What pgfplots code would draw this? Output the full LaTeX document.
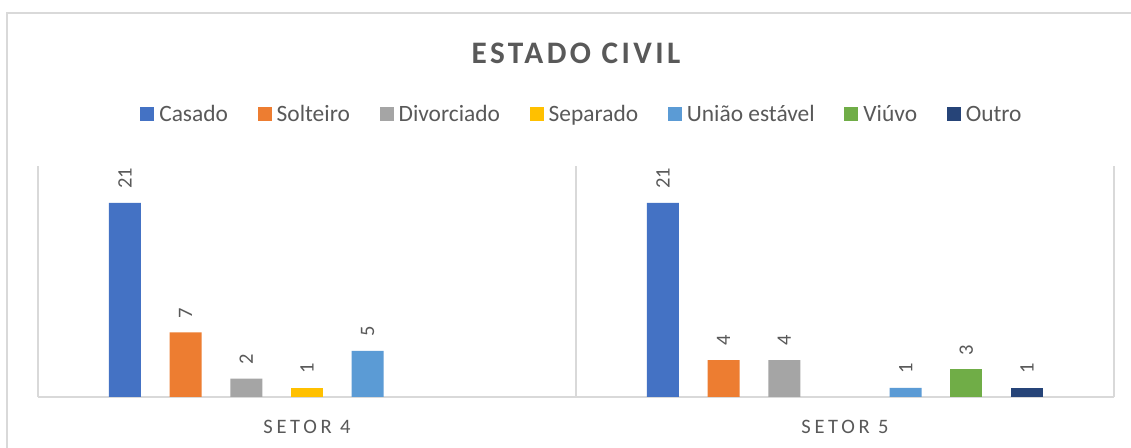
\documentclass[border=0pt]{standalone}
\usepackage{fontspec}
\setmainfont{Carlito}
\newfontfamily\titlefont[LetterSpace=11]{Carlito}
\newfontfamily\axisfont[LetterSpace=18]{Carlito}
\usepackage{pgfplots}
\pgfplotsset{compat=1.18}
\definecolor{cCasado}{HTML}{4472C4}
\definecolor{cSolteiro}{HTML}{ED7D31}
\definecolor{cDivorciado}{HTML}{A5A5A5}
\definecolor{cSeparado}{HTML}{FFC000}
\definecolor{cUniao}{HTML}{5B9BD5}
\definecolor{cViuvo}{HTML}{70AD47}
\definecolor{cOutro}{HTML}{264478}
\definecolor{txt}{HTML}{595959}
\definecolor{gridc}{HTML}{D9D9D9}
\begin{document}
\begin{tikzpicture}
\useasboundingbox (0,0) rectangle (1131bp,448bp);
\fill[white] (0,0) rectangle (1131bp,448bp);
\clip (0,0) rectangle (1131bp,448bp);
\draw[gridc, line width=1.5bp] (7bp,435bp) rectangle (1160bp,-20bp);
\begin{axis}[
  at={(38bp,51bp)}, anchor=south west,
  scale only axis, width=1076bp, height=231bp,
  xmin=0.5, xmax=2.5, ymin=0, ymax=25,
  ybar=28.7bp, bar width=32bp,
  axis y line=none,
  axis x line*=bottom,
  x axis line style={gridc, line width=2bp, -},
  xtick={1,2}, xticklabels={SETOR 4, SETOR 5},
  major tick length=0pt,
  xticklabel style={font=\axisfont\fontsize{20.6}{24}\selectfont, text=txt, anchor=base, yshift=-36bp},
  extra x ticks={0.5,1.5,2.5}, extra x tick labels={},
  extra x tick style={grid=major, major grid style={gridc, line width=2bp}},
  nodes near coords,
  every node near coord/.append style={rotate=90, anchor=west, font=\fontsize{20.6}{24}\selectfont, text=txt, inner xsep=14bp},
  /pgf/number format/assume math mode=true,
  legend columns=7,
  legend style={at={(0.5046,1.223)}, anchor=center, draw=none, fill=none, font=\fontsize{23.5}{28}\selectfont,
    /tikz/every even column/.append style={column sep=29.7bp},
    /tikz/every odd column/.append style={column sep=5bp},
    nodes={inner sep=0bp, text=txt}},
  legend image code/.code={\fill[#1] (0bp,-7bp) rectangle (14bp,7bp);},
]
\addplot[fill=cCasado, draw=none] coordinates {(1,21) (2,21)};
\addplot[fill=cSolteiro, draw=none] coordinates {(1,7) (2,4)};
\addplot[fill=cDivorciado, draw=none] coordinates {(1,2) (2,4)};
\addplot[fill=cSeparado, draw=none] coordinates {(1,1)};
\addplot[fill=cUniao, draw=none] coordinates {(1,5) (2,1)};
\addplot[fill=cViuvo, draw=none] coordinates {(2,3)};
\addplot[fill=cOutro, draw=none] coordinates {(2,1)};
\legend{Casado, Solteiro, Divorciado, Separado, União estável, Viúvo, Outro}
\end{axis}
\node[font=\titlefont\bfseries\fontsize{31.4}{36}\selectfont, text=txt, anchor=base] at (576bp,384.7bp) {ESTADO CIVIL};
\end{tikzpicture}
\end{document}
